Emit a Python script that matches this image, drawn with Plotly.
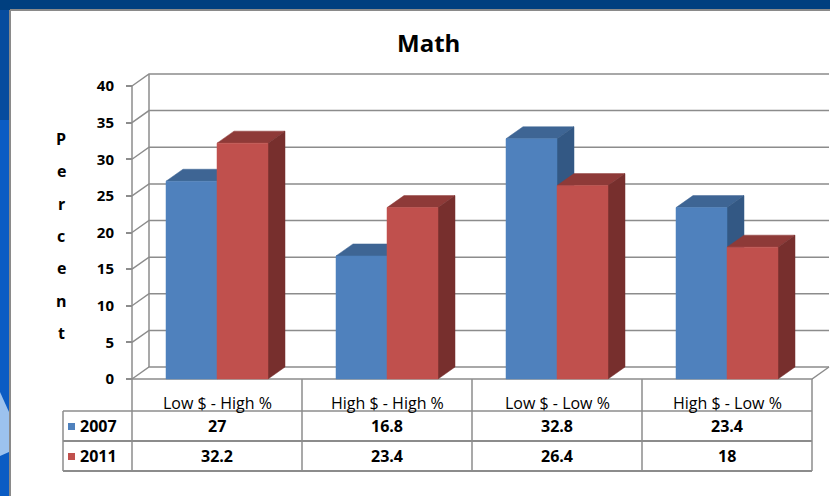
import plotly.graph_objects as go

# ---------------- data ----------------
categories = ["Low $ - High %", "High $ - High %", "Low $ - Low %", "High $ - Low %"]
series_names = ["2007", "2011"]
values_2007 = [27, 16.8, 32.8, 23.4]
values_2011 = [32.2, 23.4, 26.4, 18]
y_ticks = [0, 5, 10, 15, 20, 25, 30, 35, 40]
chart_title = "Math"
axis_title = "Percent"

# ---------------- styling / geometry ----------------
W, H = 830, 496
PX_X0 = 217          # pixel of first category centre
PX_PER_CAT = 170
PX_Y0 = 379          # pixel of value 0 (front)
PX_PER_UNIT = 7.325
DX = 17 / PX_PER_CAT           # 3D depth in x units
DY = 12 / PX_PER_UNIT          # 3D depth in y units
BAR_W = 0.3
FONT = "Open Sans"

front = {"2007": "#4F81BD", "2011": "#C0504D"}
top = {"2007": "#3E6594", "2011": "#8E3A38"}
side = {"2007": "#335884", "2011": "#772F2D"}
grid_col = "#8C8C8C"

xr = [(0 - PX_X0) / PX_PER_CAT, (W - PX_X0) / PX_PER_CAT]
yr = [(PX_Y0 - H) / PX_PER_UNIT, PX_Y0 / PX_PER_UNIT]
n = len(categories)
xl, xrt = -0.5, n - 0.5
ymax = y_ticks[-1]


def px(xp):
    return xp / W


def py(yp):
    return 1 - yp / H


fig = go.Figure()

# gridlines on side wall and back wall
gx, gy = [], []
for v in y_ticks:
    gx += [xl, xl + DX, xrt + DX, None]
    gy += [v, v + DY, v + DY, None]
gx += [xl + DX, xl + DX, None, xl, xl, None, xl, xrt, xrt + DX, None]
gy += [DY, ymax + DY, None, 0, ymax, None, 0, 0, DY, None]
fig.add_trace(go.Scatter(x=gx, y=gy, mode="lines", line=dict(color=grid_col, width=1.5),
                         hoverinfo="skip", showlegend=False))


def poly(xs, ys, color):
    fig.add_trace(go.Scatter(x=xs + [xs[0]], y=ys + [ys[0]], mode="lines", fill="toself",
                             fillcolor=color, line=dict(color=color, width=0.5),
                             hoverinfo="skip", showlegend=False))


series = {"2007": values_2007, "2011": values_2011}
for i in range(n):
    for k, name in enumerate(series_names):
        v = series[name][i]
        x0 = i - BAR_W + k * BAR_W
        x1 = x0 + BAR_W
        poly([x0, x1, x1 + DX, x0 + DX], [v, v, v + DY, v + DY], top[name])
        poly([x1, x1, x1 + DX, x1 + DX], [0, v, v + DY, DY], side[name])
        poly([x0, x1, x1, x0], [0, 0, v, v], front[name])

shapes = []
# frame background
shapes.append(dict(type="rect", xref="paper", yref="paper", x0=0, x1=px(10), y0=0, y1=1,
                   fillcolor="#0B5CC4", line_width=0, layer="below"))
shapes.append(dict(type="path", xref="paper", yref="paper",
                   path=f"M 0 {py(392)} L {px(9)} {py(412)} L {px(9)} {py(452)} L 0 {py(456)} Z",
                   fillcolor="#9CC2EE", line_width=0, layer="below"))
shapes.append(dict(type="rect", xref="paper", yref="paper", x0=0, x1=px(10), y0=py(120), y1=1,
                   fillcolor="#064C9E", line_width=0, layer="below"))
shapes.append(dict(type="rect", xref="paper", yref="paper", x0=0, x1=1, y0=py(10), y1=1,
                   fillcolor="#003F7F", line_width=0, layer="below"))
shapes.append(dict(type="line", xref="paper", yref="paper", x0=px(10), x1=px(10), y0=0, y1=py(10),
                   line=dict(color="#8A8A8A", width=2), layer="below"))
shapes.append(dict(type="line", xref="paper", yref="paper", x0=px(10), x1=1, y0=py(10), y1=py(10),
                   line=dict(color="#8A8A8A", width=2), layer="below"))

# data table
tcol = "#8C8C8C"
for j in range(n + 1):
    shapes.append(dict(type="line", xref="x", yref="paper", x0=j - 0.5, x1=j - 0.5,
                       y0=py(379), y1=py(471), line=dict(color=tcol, width=1.5)))
for yy, w in [(411, 1.5), (441, 2), (471, 2)]:
    shapes.append(dict(type="line", xref="paper", yref="paper", x0=px(63), x1=px(PX_X0 + (xrt) * PX_PER_CAT),
                       y0=py(yy), y1=py(yy), line=dict(color=tcol, width=w)))
shapes.append(dict(type="line", xref="paper", yref="paper", x0=px(63), x1=px(63),
                   y0=py(411), y1=py(471), line=dict(color=tcol, width=1.5)))

annotations = []


def ann(x, y, text, size, xref="paper", xanchor="center", **kw):
    annotations.append(dict(x=x, y=y, xref=xref, yref="paper", text=text, showarrow=False,
                            xanchor=xanchor, yanchor="middle",
                            font=dict(family=FONT, size=size, color="#000000"), **kw))


for i, c in enumerate(categories):
    ann(i, py(403), c, 16, xref="x")
row_y = {"2007": 426, "2011": 456}
for name in series_names:
    yc = row_y[name]
    shapes.append(dict(type="rect", xref="paper", yref="paper", x0=px(68), x1=px(75),
                       y0=py(yc + 4), y1=py(yc - 3), fillcolor=front[name], line_width=0))
    ann(px(78), py(yc), f"<b>{name}</b>", 16, xanchor="left")
    for i, v in enumerate(series[name]):
        ann(i, py(yc), f"<b>{v:g}</b>", 16, xref="x")

# title and vertical axis title
ann(px(428), py(42), f"<b>{chart_title}</b>", 24)
for k, ch in enumerate(axis_title):
    ann(px(61), py(139 + k * 32.3), f"<b>{ch}</b>", 16)

fig.update_layout(
    width=W, height=H, margin=dict(l=0, r=0, t=0, b=0),
    paper_bgcolor="white", plot_bgcolor="rgba(0,0,0,0)",
    showlegend=False, shapes=shapes, annotations=annotations,
    xaxis=dict(range=xr, domain=[0, 1], visible=False, fixedrange=True),
    yaxis=dict(range=yr, domain=[0, 1], anchor="free", position=px(PX_X0 + xl * PX_PER_CAT),
               tickvals=y_ticks, ticktext=[f"<b>{t}</b>" for t in y_ticks],
               ticks="outside", ticklen=6, tickcolor=grid_col, tickwidth=1.5,
               ticklabelstandoff=9,
               showgrid=False, zeroline=False, showline=False,
               tickfont=dict(family=FONT, size=15, color="#000000"), fixedrange=True),
)

fig.write_html("out.html")
